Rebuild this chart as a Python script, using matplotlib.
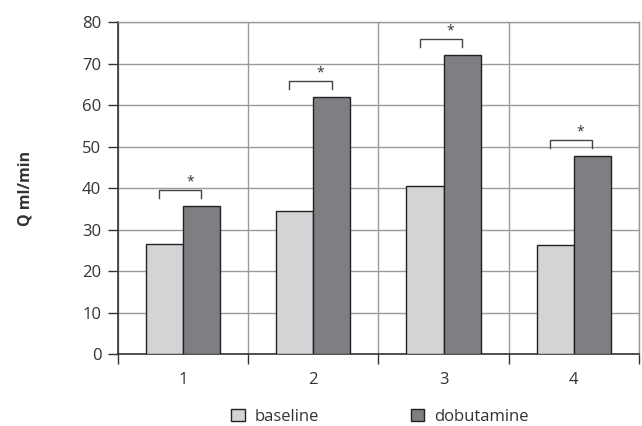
import matplotlib.pyplot as plt
import numpy as np

# dados do grafico
grupos = ['1', '2', '3', '4']
baseline = [26.6, 34.4, 40.6, 26.3]
dobutamine = [35.7, 62.0, 72.1, 47.8]
series = ['baseline', 'dobutamine']
yticks = [0, 10, 20, 30, 40, 50, 60, 70, 80]

plt.rcParams['font.family'] = ['Open Sans', 'DejaVu Sans']

fig = plt.figure(figsize=(6.42, 4.26), dpi=100)
ax = fig.add_axes([0.1838, 0.169, 0.8115, 0.779])

x = np.arange(len(grupos))
w = 0.285
cor_base = '#d3d4d6'
cor_dob = '#7e7f83'

ax.bar(x - w / 2, baseline, w, color=cor_base, edgecolor='#222222', linewidth=1.0,
       label=series[0], zorder=3)
ax.bar(x + w / 2, dobutamine, w, color=cor_dob, edgecolor='#222222', linewidth=1.0,
       label=series[1], zorder=3)

# colchetes de significancia
for i, v in enumerate(dobutamine):
    topo = v + 3.9
    x0 = i - 0.185
    x1 = i + 0.14
    ax.plot([x0, x0, x1, x1], [topo - 2.1, topo, topo, topo - 2.1],
            color='#444444', linewidth=1.0, zorder=4)
    ax.text((x0 + x1) / 2 + 0.075, topo + 1.9, '*', ha='center', va='center',
            fontsize=10, color='#333333')

ax.set_xlim(-0.5, 3.5)
ax.set_ylim(0, 80)
ax.set_yticks(yticks)
ax.set_xticks(x)
ax.set_xticklabels(grupos)
ax.set_xticks(np.arange(-0.5, 4.0, 1.0), minor=True)

ax.tick_params(axis='x', which='major', length=0, pad=13, labelsize=12, colors='#333333')
ax.tick_params(axis='x', which='minor', length=7, width=1.0, color='#333333')
ax.tick_params(axis='y', length=7, width=1.0, pad=5, labelsize=12,
               color='#333333', labelcolor='#333333')

ax.grid(axis='y', which='major', color='#9a9a9a', linewidth=1.0, zorder=0)
ax.grid(axis='x', which='minor', color='#9a9a9a', linewidth=1.0, zorder=0)
ax.grid(axis='x', which='major', visible=False)

for lado in ['top', 'right']:
    ax.spines[lado].set_color('#9a9a9a')
    ax.spines[lado].set_linewidth(1.0)
for lado in ['left', 'bottom']:
    ax.spines[lado].set_color('#333333')
    ax.spines[lado].set_linewidth(1.2)

ax.set_ylabel('Q ml/min', fontsize=11.5, fontweight='bold', color='#333333', labelpad=35)

fig.legend(loc='center', bbox_to_anchor=(0.592, 0.022), ncol=2, frameon=False,
           fontsize=12, handlelength=0.8, handleheight=0.8, handletextpad=0.6,
           columnspacing=5.5, labelcolor='#333333')

fig.savefig('out.png', dpi=100)
